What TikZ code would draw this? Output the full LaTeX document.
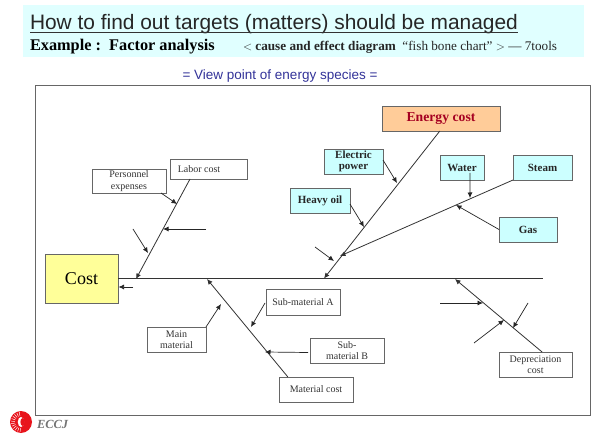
\documentclass[tikz,border=0pt]{standalone}
\usepackage{fontspec}
\setmainfont{Liberation Serif}
\newfontfamily\hv{Liberation Sans}
\usetikzlibrary{arrows.meta,calc}
\definecolor{edge}{HTML}{666666}
\definecolor{ink}{HTML}{333333}
\definecolor{band}{HTML}{E0FFFF}
\definecolor{cyanfill}{HTML}{CCFFFF}
\definecolor{yellowfill}{HTML}{FFFF99}
\definecolor{orangefill}{HTML}{FFCC99}
\definecolor{darkred}{HTML}{A50021}
\definecolor{viewblue}{HTML}{333399}
\definecolor{logored}{HTML}{E8141C}
\tikzset{
 every node/.style={inner sep=0pt,outer sep=0pt,align=center,text=ink},
 plainbox/.style={draw=edge,line width=.8pt,fill=white,font=\fontsize{10}{11.5}\selectfont},
 cyanbox/.style={draw=edge,line width=.8pt,fill=cyanfill,font=\bfseries\fontsize{11}{11.5}\selectfont,text=black!85},
 bone/.style={draw=ink,line width=.8pt,-{Latex[length=5.5pt,width=5pt]}},
 twig/.style={draw=black!85,line width=.7pt,-{Latex[length=5.5pt,width=5pt]}},
}
\newcommand{\bx}[7]{\node[#1,minimum width=#4pt-#3pt,minimum height=#6pt-#5pt,anchor=north west] (#2) at (#3,#5) {#7};}
\begin{document}
\begin{tikzpicture}[x=1pt,y=-1pt]
\useasboundingbox (0,0) rectangle (600,438);
\fill[white] (0,0) rectangle (600,438);
% header band
\fill[band] (23,5) rectangle (584,57);
\node[anchor=base west,font=\hv\fontsize{20.9}{22}\selectfont,text=black!85] (title) at (30,30) {How to find out targets (matters) should be managed};
\coordinate (ul1) at ($(title.base west)+(0,2.5)$);
\coordinate (ul2) at ($(title.base east)+(0,2.5)$);
\draw[ink,line width=.9pt] (ul1) -- (ul2);
\node[anchor=base west,font=\bfseries\fontsize{16.3}{18}\selectfont,text=black] (ex) at (30,51) {Example :\ \ Factor analysis};
\node[anchor=base west,font=\fontsize{13.2}{15}\selectfont,text=black!85] (sub) at (243,51) {$<$ \textbf{cause and effect diagram}\ \ “fish bone chart” $>$ --- 7tools};
\node[font=\hv\fontsize{13.5}{15}\selectfont,text=viewblue] (view) at (280,76) {= View point of energy species =};
% frame
\draw[edge,line width=.9pt] (35,85) rectangle (590,415);
% boxes
\bx{draw=edge,line width=.8pt,fill=yellowfill,font=\fontsize{18}{20}\selectfont,text=black}{cost}{45}{118}{254}{303}{Cost}
\bx{draw=edge,line width=.8pt,fill=orangefill,font=\bfseries\fontsize{13.7}{15}\selectfont,text=darkred}{energy}{382}{500}{106}{131}{Energy cost}
\bx{plainbox}{labor}{170}{247}{159}{179}{\hspace*{-19pt}Labor cost}
\bx{plainbox}{personnel}{92}{166}{169}{193}{Personnel\\expenses}
\bx{plainbox}{subA}{266}{340}{289}{315}{Sub-material A}
\bx{plainbox}{subB}{310}{384}{338}{363}{Sub-\\material B}
\bx{plainbox}{mainm}{147}{206}{327}{352}{Main\\material}
\bx{plainbox}{matc}{279}{353}{377}{402}{\raisebox{-3pt}{Material cost}}
\bx{plainbox}{depr}{499}{572}{352}{377}{Depreciation\\cost}
\bx{cyanbox}{elec}{324}{383}{149}{174}{Electric\\power}
\bx{cyanbox}{heavy}{290}{350}{188}{213}{Heavy oil}
\bx{cyanbox}{water}{440}{484}{155}{180}{Water}
\bx{cyanbox}{steam}{513}{572}{155}{180}{Steam}
\bx{cyanbox}{gas}{499}{557}{217}{242}{Gas}
% spine
\coordinate (spineend) at (543,278);
\draw[ink,line width=.8pt] (cost.east |- spineend) -- (spineend);
% points on the spine and bones
\coordinate (pLabor) at (136,279);
\coordinate (pMat) at (207,279);
\coordinate (pEnergy) at (324,278.5);
\coordinate (pDepr) at (455,279);
\coordinate (pSteam) at (340,256);
% main bones
\draw[bone] ($(labor.south west)!.26!(labor.south east)$) -- (pLabor);
\draw[bone] ($(matc.north west)!.12!(matc.north east)$) -- (pMat);
\draw[bone] ($(energy.south west)!.49!(energy.south east)$) -- (pEnergy);
\draw[bone] ($(depr.north west)!.59!(depr.north east)$) -- (pDepr);
\draw[bone] (steam.south west) -- (pSteam);
% twigs with a box at the tail
\coordinate (a1) at (177,204);
\draw[twig] ($(personnel.south east)+(-5,0)$) -- (a1);
\coordinate (a2) at (221,304);
\draw[twig] (mainm.north east) -- (a2);
\coordinate (a3) at (251,327);
\draw[twig] ($(subA.west)+(-1,1)$) -- (a3);
\coordinate (a4) at (265,352);
\draw[twig] ($(subB.west)+(-2,2)$) -- (a4);
\coordinate (a5) at (397,183);
\draw[twig] ($(elec.north east)+(0,11)$) -- (a5);
\coordinate (a6) at (364,227);
\draw[twig] ($(heavy.north east)+(0,16)$) -- (a6);
\coordinate (a7) at (470,198);
\draw[twig] ($(water.north west)!.68!(water.north east)+(0,18)$) -- (a7);
\coordinate (a8) at (456,205);
\draw[twig] (gas.west) -- (a8);
% free twigs
\foreach \n/\xa/\ya/\xb/\yb in {t1/133/229/148/253,t2/206/229/163/229,t3/133/287/118.5/287,t4/315/247/334/261,t5/440/303/483/303,t6/474/343/504/320,t7/528/303/513/328}{
 \coordinate (\n s) at (\xa,\ya);
 \coordinate (\n e) at (\xb,\yb);
 \draw[twig] (\n s) -- (\n e);
}
% logo
\fill[logored] (21,422) circle (11);
\foreach \a in {95,110,...,265}{\draw[white,line width=.45pt] (21,422) -- ++(\a:10);}
\fill[logored] (21,422) circle (6);
\fill[white] (21,422) ellipse (3.2 and 5);
\fill[logored] (22.6,422) ellipse (2.2 and 4);
\node[anchor=west,font=\bfseries\itshape\fontsize{12.4}{14}\selectfont,text=black!55] (eccj) at (37,424) {ECCJ};
\end{tikzpicture}
\end{document}
